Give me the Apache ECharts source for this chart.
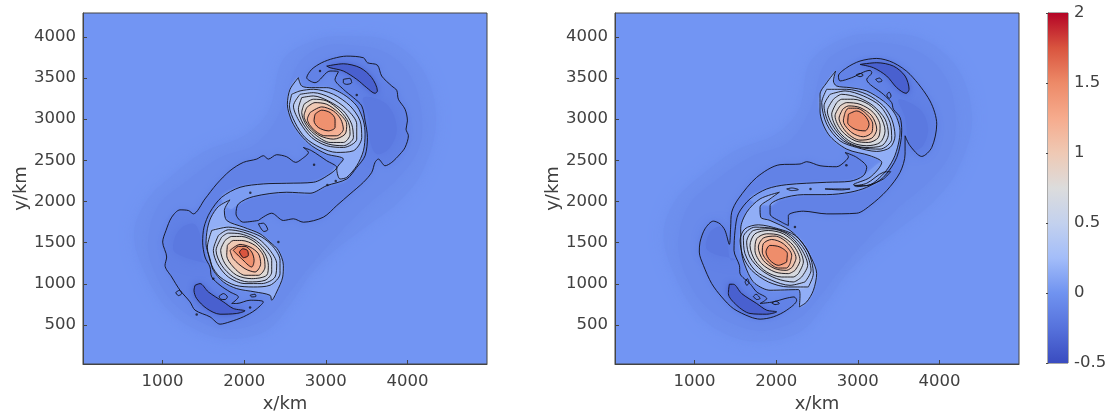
<!DOCTYPE html>
<html><head><meta charset="utf-8">
<script src="https://cdn.jsdelivr.net/npm/echarts@6/dist/echarts.min.js"></script>
<style>html,body{margin:0;padding:0;background:#fff}#c{width:1113px;height:414px}</style></head>
<body><div id="c"></div>
<script>
const xTicks=[1000,2000,3000,4000];
const yTicks=[500,1000,1500,2000,2500,3000,3500,4000];
const cbTicks=[-0.5,0,0.5,1,1.5,2];
// colour scale: value -> colour
const scaleValues=[-0.5,-0.25,0,0.25,0.5,0.75,1,1.25,1.5,1.75,2];
const scaleColors=['#3a4cc0','#5672dc','#7093f0','#a3bdf9','#c3d1ee','#dcdcdc','#efc9b4','#f6ab8d','#ed8a68','#d9553f','#b40426'];

// ---- left panel: contours in km
const L_halo1=[[2480,3726],[2889,3968],[3256,4008],[3787,3948],[4196,3585],[4350,3000],[4200,2400],[3900,2000],[3500,1700],[3100,1400],[2800,1100],[2600,800],[2300,450],[1900,330],[1500,400],[1100,650],[800,1100],[650,1600],[800,2000],[1100,2300],[1500,2600],[2000,2800],[2300,3100]];
const L_halo2=[[2650,3650],[2950,3880],[3300,3900],[3750,3800],[4050,3500],[4180,3000],[4120,2600],[3850,2250],[3500,1950],[3150,1600],[2750,1150],[2560,900],[2300,600],[1900,450],[1550,500],[1150,750],[900,1150],[820,1500],[950,1950],[1300,2250],[1700,2530],[2150,2700],[2450,3100]];
const L_bandA=[[2725,2656],[2787,2596],[2705,2515],[2631,2475],[2521,2543],[2398,2568],[2296,2515],[2235,2556],[2153,2515],[1990,2475],[1827,2374],[1663,2212],[1520,2031],[1377,1849],[1316,1890],[1214,1898],[1112,1809],[1042,1648],[1001,1506],[1050,1325],[1030,1224],[1112,1082],[1214,921],[1336,780],[1398,679],[1581,598],[1704,509],[1826,538],[1990,598],[2133,679],[2235,780],[2072,800],[1908,760],[1847,760],[1929,840],[1826,901],[1704,982],[1602,1083],[1581,1204],[1520,1325],[1491,1506],[1508,1688],[1581,1869],[1724,2051],[1949,2172],[2235,2213],[2521,2221],[2848,2233],[3052,2334],[3134,2414],[3011,2495],[2827,2616]];
const L_bandB=[[2174,1769],[2337,1857],[2480,1769],[2603,1789],[2725,1748],[2970,1809],[3134,1950],[3297,2091],[3461,2233],[3563,2354],[3603,2475],[3644,2515],[3726,2434],[3808,2475],[3910,2576],[3971,2656],[4012,2798],[3983,2878],[4000,2979],[3971,3121],[3889,3242],[3869,3351],[3808,3403],[3685,3524],[3632,3657],[3510,3686],[3461,3746],[3256,3766],[3093,3738],[2950,3686],[2827,3605],[2766,3504],[2868,3443],[3052,3585],[3154,3577],[3113,3484],[3215,3363],[3338,3262],[3440,3161],[3481,2979],[3510,2777],[3481,2556],[3379,2414],[3256,2273],[3011,2192],[2807,2100],[2521,2112],[2112,2059],[1929,1970],[1900,1849],[1990,1748]];
const L_patchA=[[3461,3262],[3746,3181],[3869,2899],[3787,2656],[3624,2576],[3542,2737],[3522,3020]];
const L_patchB=[[1540,1250],[1250,1330],[1130,1420],[1200,1650],[1380,1730],[1460,1590],[1480,1300]];
const L_gap=[[1724,2051],[1949,2172],[2235,2213],[2521,2221],[2848,2233],[3052,2334],[3134,2414],[3256,2273],[3011,2192],[2807,2100],[2521,2112],[2112,2059],[1929,1970],[1826,1910]];
const L_cresUp=[[3011,3645],[3215,3673],[3420,3625],[3563,3504],[3632,3343],[3603,3314],[3501,3383],[3379,3484],[3215,3585],[3052,3625]];
const L_cresLo=[[1398,981],[1459,1002],[1561,901],[1745,780],[1867,699],[2010,671],[1908,639],[1704,630],[1541,699],[1418,820],[1385,921]];
const L_up0=[[2664,3504],[2562,3363],[2529,3181],[2582,2979],[2684,2818],[2827,2677],[3011,2576],[3215,2515],[3134,2394],[3175,2273],[3256,2293],[3379,2434],[3461,2616],[3481,2818],[3461,2979],[3379,3161],[3215,3302],[3011,3383],[2827,3383],[2705,3403]];
const L_up1=[[2582,3302],[2554,3161],[2623,2959],[2746,2777],[2929,2656],[3134,2596],[3338,2616],[3440,2777],[3420,2979],[3297,3161],[3093,3302],[2848,3363],[2684,3343]];
const L_up2=[[2684,3302],[2603,3161],[2684,2959],[2827,2777],[3011,2677],[3215,2656],[3379,2757],[3379,2939],[3256,3121],[3052,3262],[2848,3322]];
const L_up3=[[2705,3262],[2664,3121],[2725,2939],[2868,2777],[3032,2697],[3215,2677],[3338,2777],[3317,2939],[3215,3100],[3032,3221],[2848,3282]];
const L_up4=[[2733,3181],[2705,3080],[2766,2919],[2889,2798],[3052,2717],[3215,2717],[3297,2818],[3277,2959],[3175,3100],[3011,3221],[2848,3242]];
const L_up5=[[2766,3141],[2733,3040],[2807,2899],[2929,2798],[3093,2757],[3236,2818],[3256,2939],[3154,3080],[3011,3181],[2868,3201]];
const L_up6=[[2807,3080],[2774,3000],[2848,2878],[2990,2798],[3134,2798],[3215,2878],[3183,3000],[3093,3100],[2950,3149]];
const L_up7=[[2868,3060],[2856,2979],[2909,2899],[3032,2858],[3113,2899],[3113,3000],[3052,3080],[2950,3109]];
const L_lo0=[[1826,2019],[1684,1938],[1594,1809],[1549,1668],[1532,1486],[1581,1304],[1622,1163],[1745,1022],[1908,941],[2133,901],[2317,860],[2337,800],[2398,901],[2472,1082],[2480,1224],[2419,1405],[2317,1506],[2194,1607],[1990,1688],[1786,1769],[1757,1890]];
const L_lo1=[[1602,1648],[1549,1446],[1602,1224],[1704,1082],[1888,982],[2112,961],[2317,982],[2439,1123],[2439,1284],[2358,1446],[2215,1567],[2010,1648],[1806,1688]];
const L_lo2=[[1684,1587],[1622,1405],[1671,1244],[1806,1082],[2010,1002],[2215,1002],[2378,1082],[2398,1244],[2317,1405],[2174,1547],[1990,1627],[1806,1656]];
const L_lo3=[[1724,1567],[1655,1405],[1724,1224],[1867,1082],[2051,1022],[2255,1042],[2337,1143],[2337,1284],[2255,1425],[2112,1547],[1949,1607],[1806,1615]];
const L_lo4=[[1765,1526],[1712,1405],[1765,1244],[1908,1103],[2092,1062],[2276,1103],[2296,1224],[2255,1365],[2133,1506],[1969,1575],[1847,1575]];
const L_lo5=[[1794,1466],[1786,1345],[1867,1204],[2010,1103],[2174,1103],[2255,1204],[2235,1345],[2133,1466],[1969,1526],[1867,1526]];
const L_lo6=[[1826,1405],[1867,1304],[2010,1183],[2133,1143],[2202,1244],[2174,1365],[2072,1446],[1949,1478]];
const L_lo7=[[1867,1405],[1969,1304],[2092,1204],[2121,1284],[2092,1385],[2010,1454],[1929,1454]];
const L_lo8=[[1941,1385],[1990,1317],[2051,1345],[2039,1405],[1982,1425]];
const L_loops=[
 [[3215,3484],[3297,3496],[3317,3443],[3256,3423],[3215,3443]],
 [[1692,848],[1745,881],[1794,840],[1765,808],[1712,812]],
 [[1161,893],[1206,921],[1234,881],[1193,856]],
 [[2072,860],[2133,873],[2145,848],[2092,840]],
 [[2174,1728],[2235,1736],[2288,1656],[2243,1635]]
];
const L_specks=[[3379,3294],[2856,2447],[3019,2200],[3122,2249],[2929,3585],[2419,1506],[1622,1062],[1418,626],[2072,711],[2075,2105]];

// ---- right panel
const R_halo1=[[2420,3700],[2850,3990],[3256,4040],[3800,3970],[4230,3600],[4400,3000],[4230,2400],[3930,2000],[3520,1680],[3120,1380],[2830,1080],[2620,780],[2300,420],[1850,300],[1450,360],[1050,620],[760,1100],[620,1600],[770,2020],[1100,2330],[1500,2620],[2000,2820],[2280,3120]];
const R_halo2=[[2600,3680],[2950,3900],[3300,3930],[3750,3820],[4080,3500],[4200,3000],[4130,2580],[3860,2230],[3500,1930],[3150,1580],[2750,1130],[2560,880],[2280,580],[1880,430],[1530,490],[1130,730],[880,1130],[800,1500],[930,1950],[1280,2270],[1700,2550],[2150,2720],[2420,3120]];
const R_bandA=[[2844,2596],[2885,2543],[2844,2487],[2741,2422],[2537,2434],[2374,2483],[2292,2455],[2047,2447],[1761,2293],[1536,2031],[1455,1870],[1442,1688],[1426,1478],[1373,1648],[1312,1728],[1230,1761],[1128,1668],[1067,1506],[1058,1385],[1108,1224],[1210,1002],[1332,840],[1475,699],[1679,598],[1802,570],[1965,598],[2129,679],[2251,800],[2219,840],[2108,820],[1965,780],[1802,760],[1884,820],[1761,901],[1679,1002],[1557,1123],[1549,1224],[1483,1405],[1496,1648],[1536,1849],[1679,2031],[1884,2152],[2129,2204],[2619,2233],[2905,2245],[3068,2313],[3109,2414],[2987,2535]];
const R_bandB=[[2149,1708],[2149,1829],[2333,1882],[2619,1849],[2987,1857],[3150,1950],[3354,2132],[3518,2354],[3579,2576],[3579,2798],[3640,2677],[3783,2547],[3906,2656],[3967,2939],[3885,3221],[3640,3544],[3436,3686],[3232,3738],[3027,3706],[2864,3625],[2762,3524],[2782,3464],[2925,3504],[3150,3593],[3171,3564],[3109,3484],[3313,3302],[3415,3201],[3436,3121],[3518,3020],[3538,2858],[3477,2535],[3313,2293],[3109,2172],[2905,2112],[2619,2083],[2333,2083],[2047,2031],[1925,1950],[1925,1849],[2067,1748]];
const R_patchA=[[3500,3240],[3760,3120],[3860,2900],[3800,2680],[3680,2620],[3620,2720],[3580,3020]];
const R_patchB=[[1510,1300],[1250,1360],[1140,1440],[1200,1640],[1340,1690],[1400,1500],[1440,1290]];
const R_gap=[[1679,2031],[1884,2152],[2129,2204],[2619,2233],[2905,2245],[3068,2313],[3293,2475],[3313,2293],[3109,2172],[2905,2112],[2619,2083],[2333,2083],[2047,2031],[1925,1950]];
const R_cresUp=[[3027,3665],[3232,3686],[3436,3645],[3579,3524],[3628,3363],[3591,3314],[3477,3383],[3354,3524],[3191,3625]];
const R_cresLo=[[1426,994],[1475,994],[1577,881],[1761,760],[1884,679],[2006,659],[1884,630],[1679,639],[1516,739],[1414,881]];
const R_up0=[[2729,3585],[2619,3443],[2537,3302],[2537,3100],[2639,2818],[2864,2636],[3150,2556],[3293,2475],[3150,2293],[2946,2204],[3109,2192],[3313,2334],[3436,2515],[3497,2697],[3518,2858],[3477,3020],[3415,3121],[3313,3221],[3109,3343],[2905,3383],[2741,3403],[2701,3464]];
const R_up1=[[2619,3363],[2558,3201],[2619,2939],[2782,2737],[2987,2656],[3232,2608],[3395,2656],[3456,2798],[3415,3000],[3313,3161],[3109,3302],[2864,3363]];
const R_up2=[[2660,3302],[2586,3161],[2660,2919],[2823,2737],[3027,2656],[3273,2636],[3415,2757],[3395,2959],[3273,3161],[3068,3282],[2844,3343]];
const R_up3=[[2701,3242],[2627,3100],[2721,2878],[2885,2717],[3089,2656],[3293,2677],[3375,2818],[3334,3000],[3191,3161],[3007,3262],[2803,3302]];
const R_up4=[[2741,3201],[2680,3060],[2762,2858],[2925,2717],[3109,2677],[3273,2717],[3334,2858],[3273,3040],[3130,3181],[2946,3242],[2803,3242]];
const R_up5=[[2782,3161],[2721,3040],[2803,2858],[2966,2737],[3130,2717],[3252,2777],[3273,2919],[3191,3080],[3027,3181],[2864,3201]];
const R_up6=[[2815,3121],[2770,3012],[2864,2838],[3027,2745],[3171,2769],[3232,2878],[3171,3040],[3027,3141],[2885,3161]];
const R_up7=[[2844,3080],[2823,2979],[2925,2838],[3068,2786],[3171,2838],[3183,2939],[3109,3060],[2987,3133],[2885,3133]];
const R_up8=[[2885,3060],[2876,2959],[2966,2878],[3089,2858],[3138,2939],[3089,3040],[2987,3100]];
const R_lo0=[[2039,2112],[1802,2031],[1639,1870],[1565,1668],[1577,1365],[1659,1123],[1741,1002],[1925,921],[2272,929],[2292,860],[2284,719],[2374,780],[2456,921],[2496,1123],[2435,1304],[2313,1506],[2170,1648],[1925,1769],[1810,1809],[1802,1930],[1925,2031]];
const R_lo1=[[2394,961],[2455,1123],[2394,1385],[2231,1587],[2026,1668],[1781,1716],[1618,1668],[1557,1526],[1598,1324],[1700,1163],[1904,1022],[2149,961]];
const R_lo2=[[2353,1022],[2427,1163],[2353,1405],[2190,1587],[1986,1668],[1740,1688],[1598,1567],[1618,1365],[1740,1163],[1945,1042],[2169,981]];
const R_lo3=[[2312,1082],[2386,1224],[2292,1446],[2128,1607],[1924,1668],[1720,1647],[1638,1506],[1679,1324],[1822,1163],[2006,1062],[2210,1022]];
const R_lo4=[[2272,1123],[2333,1264],[2251,1466],[2088,1607],[1904,1647],[1740,1607],[1679,1466],[1740,1284],[1883,1143],[2067,1082],[2210,1082]];
const R_lo5=[[2231,1163],[2292,1284],[2210,1466],[2047,1587],[1883,1607],[1761,1547],[1740,1405],[1822,1244],[1986,1143],[2149,1123]];
const R_lo6=[[2198,1203],[2243,1312],[2149,1486],[1986,1579],[1842,1555],[1781,1446],[1842,1284],[1986,1183],[2128,1163]];
const R_lo7=[[2169,1244],[2190,1345],[2088,1486],[1945,1538],[1842,1486],[1830,1385],[1904,1264],[2026,1191],[2128,1191]];
const R_lo8=[[2128,1264],[2137,1365],[2047,1446],[1924,1466],[1875,1385],[1924,1284],[2026,1224]];
const R_loops=[
 [[2978,3536],[3027,3556],[3068,3536],[3027,3516]],
 [[3219,3484],[3265,3500],[3297,3464],[3252,3452]],
 [[3354,3294],[3383,3330],[3407,3282],[3383,3250]],
 [[1720,848],[1753,873],[1802,820],[1761,808]],
 [[1945,768],[1994,788],[2039,760],[1986,747]],
 [[1618,1022],[1647,1062],[1667,1010],[1639,982]],
 [[2129,2152],[2190,2164],[2272,2144],[2190,2132]],
 [[2598,2152],[2782,2152],[2905,2152],[2803,2140]],
 [[2958,2192],[3109,2221],[3313,2354],[3403,2362],[3313,2273],[3150,2204],[2987,2180]]
];
const R_specks=[[2230,1690],[2420,2150],[2860,2440]];

// layers: [contour, field value, contour line?, blur]
const L_layers=[[L_halo1,-0.02,0,14],[L_halo2,-0.06,0,14],[L_bandA,-0.13,1,6],[L_bandB,-0.13,1,6],[L_patchA,-0.2,0,14],[L_patchB,-0.2,0,14],[L_gap,0.06,0,3],
 [L_cresUp,-0.37,1,6],[L_cresLo,-0.37,1,6],
 [L_up0,0.16,1,2],[L_up1,0.3,1,2],[L_up2,0.45,1,2],[L_up3,0.6,1,2],[L_up4,0.78,1,2],[L_up5,1.0,1,2],[L_up6,1.2,1,2],[L_up7,1.45,1,3],
 [L_lo0,0.16,1,2],[L_lo1,0.3,1,2],[L_lo2,0.45,1,2],[L_lo3,0.6,1,2],[L_lo4,0.78,1,2],[L_lo5,1.0,1,2],[L_lo6,1.2,1,2],[L_lo7,1.45,1,3],[L_lo8,1.75,1,2]];
const R_layers=[[R_halo1,-0.02,0,14],[R_halo2,-0.06,0,14],[R_bandA,-0.13,1,6],[R_bandB,-0.13,1,6],[R_patchA,-0.2,0,14],[R_patchB,-0.2,0,14],[R_gap,0.06,0,3],
 [R_cresUp,-0.37,1,6],[R_cresLo,-0.37,1,6],
 [R_up0,0.16,1,2],[R_up1,0.28,1,2],[R_up2,0.4,1,2],[R_up3,0.55,1,2],[R_up4,0.7,1,2],[R_up5,0.88,1,2],[R_up6,1.05,1,2],[R_up7,1.25,1,2],[R_up8,1.48,1,3],
 [R_lo0,0.16,1,2],[R_lo1,0.28,1,2],[R_lo2,0.4,1,2],[R_lo3,0.55,1,2],[R_lo4,0.7,1,2],[R_lo5,0.88,1,2],[R_lo6,1.05,1,2],[R_lo7,1.25,1,2],[R_lo8,1.48,1,3]];

function colorOf(v){
  for(let i=1;i<scaleValues.length;i++){
    if(v<=scaleValues[i]){
      const t=(v-scaleValues[i-1])/(scaleValues[i]-scaleValues[i-1]);
      return echarts.color.lerp(t,[scaleColors[i-1],scaleColors[i]]);
    }
  }
  return scaleColors[scaleColors.length-1];
}
const TXT='#404040', FONT='DejaVu Sans', SIZE=16.5;
function fillSeries(pts,val,blur,g,z){
  const c=colorOf(val);
  return {type:'custom',xAxisIndex:g,yAxisIndex:g,z:z,silent:true,clip:true,data:[pts[0]],
    renderItem:(p,api)=>({type:'polygon',
      shape:{points:pts.map(q=>api.coord(q)),smooth:0.35},
      style:{fill:c,shadowBlur:blur,shadowColor:c}})};
}
function lineSeries(pts,g){
  return {type:'line',xAxisIndex:g,yAxisIndex:g,z:50,silent:true,symbol:'none',smooth:0.3,
    data:pts.concat([pts[0]]),lineStyle:{color:'#101018',width:1,opacity:0.9}};
}
const series=[];
[[L_layers,L_loops,L_specks],[R_layers,R_loops,R_specks]].forEach((set,g)=>{
  set[0].forEach((l,i)=>{
    series.push(fillSeries(l[0],l[1],l[3],g,2+i/100));
    if(l[2]) series.push(lineSeries(l[0],g));
  });
  set[1].forEach(l=>series.push(lineSeries(l,g)));
  series.push({type:'scatter',xAxisIndex:g,yAxisIndex:g,z:51,silent:true,symbolSize:2.5,data:set[2],itemStyle:{color:'#15151f'}});
});
// colour bar
series.push({type:'custom',xAxisIndex:2,yAxisIndex:2,silent:true,clip:true,z:2,data:[[0,-0.5]],
  renderItem:(p,api)=>{
    const a=api.coord([0,-0.5]),b=api.coord([1,2]);
    const n=scaleValues.length-1;
    const stops=scaleColors.map((c,i)=>({offset:1-i/n,color:c}));
    return {type:'rect',shape:{x:a[0],y:b[1],width:b[0]-a[0],height:a[1]-b[1]},
      style:{fill:new echarts.graphic.LinearGradient(0,0,0,1,stops)}};
  }});

const plain=v=>String(v);
function xAx(i){return {gridIndex:i,type:'value',min:25,max:4975,name:'x/km',nameLocation:'middle',nameGap:31,
  nameTextStyle:{fontFamily:FONT,fontSize:18,color:TXT},
  axisLine:{show:true,lineStyle:{color:'#444',width:1}},
  axisTick:{show:true,inside:true,length:4,customValues:xTicks,lineStyle:{color:'#444',width:1}},
  axisLabel:{show:true,customValues:xTicks,fontFamily:FONT,fontSize:SIZE,color:TXT,margin:9,formatter:plain},
  splitLine:{show:false}};}
function yAx(i){return {gridIndex:i,type:'value',min:25,max:4290,name:'y/km',nameLocation:'middle',nameGap:52,
  nameTextStyle:{fontFamily:FONT,fontSize:18,color:TXT},
  axisLine:{show:true,lineStyle:{color:'#444',width:1}},
  axisTick:{show:true,inside:true,length:4,customValues:yTicks,lineStyle:{color:'#444',width:1}},
  axisLabel:{show:true,customValues:yTicks,fontFamily:FONT,fontSize:SIZE,color:TXT,margin:7,formatter:plain},
  splitLine:{show:false}};}
const chart=echarts.init(document.getElementById('c'),null,{renderer:'canvas'});
chart.setOption({
  animation:false,backgroundColor:'#fff',
  grid:[
    {left:83,top:13,width:404,height:351,outerBoundsMode:'none',containLabel:false,show:true,backgroundColor:'#7295f3',borderColor:'#444',borderWidth:1},
    {left:615,top:13,width:404,height:351,outerBoundsMode:'none',containLabel:false,show:true,backgroundColor:'#7295f3',borderColor:'#444',borderWidth:1},
    {left:1048,top:13,width:20,height:350,outerBoundsMode:'none',containLabel:false,show:true,borderColor:'#555',borderWidth:1}
  ],
  xAxis:[xAx(0),xAx(1),{gridIndex:2,type:'value',min:0,max:1,show:false}],
  yAxis:[yAx(0),yAx(1),{gridIndex:2,type:'value',position:'right',min:-0.5,max:2,interval:0.5,
    axisLine:{show:true,lineStyle:{color:'#555'}},
    axisTick:{show:true,inside:true,length:2,lineStyle:{color:'#444'}},
    axisLabel:{show:true,customValues:cbTicks,fontFamily:FONT,fontSize:SIZE,color:TXT,margin:6,formatter:plain},
    splitLine:{show:false}}],
  series:series
});
</script></body></html>
